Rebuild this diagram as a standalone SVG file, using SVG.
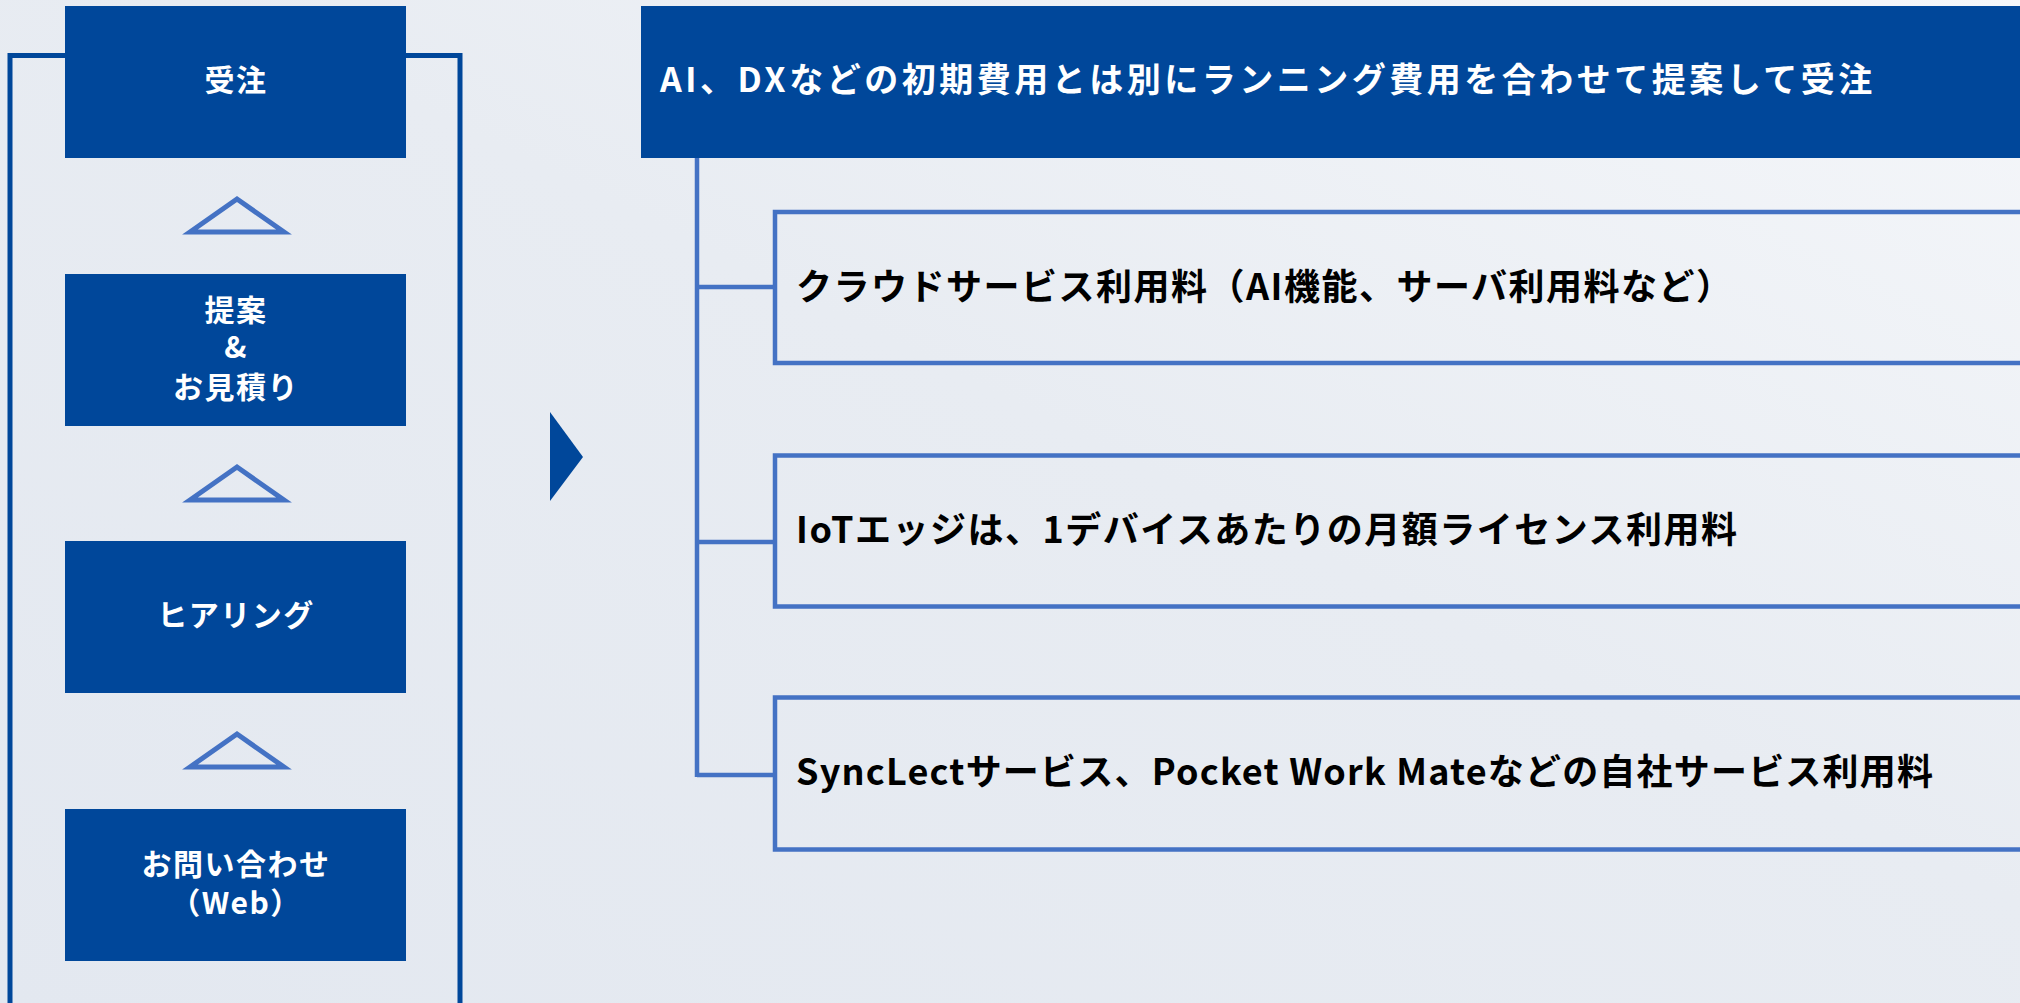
<svg xmlns="http://www.w3.org/2000/svg" width="2020" height="1003" viewBox="0 0 2020 1003">
<defs>
<linearGradient id="bg" x1="0" y1="1" x2="1" y2="0">
<stop offset="0" stop-color="#E3E8F0"/>
<stop offset="0.55" stop-color="#E8ECF2"/>
<stop offset="1" stop-color="#F5F7FA"/>
</linearGradient>
<style>
.step{fill:#00479A}
.stxt{fill:#FFFFFF;font-family:"Noto Sans CJK JP","Noto Sans",sans-serif;font-weight:bold;font-size:30px;letter-spacing:1.5px;text-anchor:middle}
.tri{fill:none;stroke:#4472C4;stroke-width:5}
.frame{fill:none;stroke:#00479A;stroke-width:5}
.conn{fill:none;stroke:#4472C4;stroke-width:4.5}
.item{fill:none;stroke:#4472C4;stroke-width:4.5}
.itxt{fill:#000000;font-family:"Noto Sans CJK JP","Noto Sans",sans-serif;font-weight:bold;font-size:36px;letter-spacing:1.5px}
.htxt{fill:#FFFFFF;font-family:"Noto Sans CJK JP","Noto Sans",sans-serif;font-weight:bold;font-size:34px;letter-spacing:3.5px}
</style>
</defs>
<rect x="0" y="0" width="2020" height="1003" fill="url(#bg)"/>
<path class="frame" d="M10,1010 V55.5 H460 V1010"/>
<g id="step-juchu">
<rect class="step" x="65" y="6" width="341" height="152"/>
<text class="stxt" x="236" y="91">受注</text>
</g>
<polygon class="tri" points="190,232 237,199 284,232"/>
<g id="step-teian">
<rect class="step" x="65" y="274" width="341" height="152"/>
<text class="stxt" x="236" y="321">提案<tspan x="236" y="358">&amp;</tspan><tspan x="236" y="398">お見積り</tspan></text>
</g>
<polygon class="tri" points="190,500 237,467 284,500"/>
<g id="step-hearing">
<rect class="step" x="65" y="541" width="341" height="152"/>
<text class="stxt" x="236" y="626">ヒアリング</text>
</g>
<polygon class="tri" points="190,767 237,734 284,767"/>
<g id="step-inquiry">
<rect class="step" x="65" y="809" width="341" height="152"/>
<text class="stxt" x="236" y="875">お問い合わせ<tspan x="236" y="914">（Web）</tspan></text>
</g>
<polygon id="play" points="550,412 583,457 550,501" fill="#00479A"/>
<g id="header">
<rect class="step" x="641" y="6" width="1390" height="152"/>
<text class="htxt" x="660" y="92">AI、DXなどの初期費用とは別にランニング費用を合わせて提案して受注</text>
</g>
<g id="connectors">
<path class="conn" d="M697,158 V777"/>
<path class="conn" d="M697,287 H775"/>
<path class="conn" d="M697,542 H775"/>
<path class="conn" d="M697,775 H775"/>
</g>
<g id="item-cloud">
<rect class="item" x="775" y="212" width="1260" height="151"/>
<text class="itxt" x="796" y="300">クラウドサービス利用料（AI機能、サーバ利用料など）</text>
</g>
<g id="item-iot">
<rect class="item" x="775" y="455.5" width="1260" height="151"/>
<text class="itxt" x="796" y="543">IoTエッジは、1デバイスあたりの月額ライセンス利用料</text>
</g>
<g id="item-own">
<rect class="item" x="775" y="697.5" width="1260" height="152"/>
<text class="itxt" x="796" y="785" style="letter-spacing:1.2px">SyncLectサービス、Pocket Work Mateなどの自社サービス利用料</text>
</g>
</svg>
